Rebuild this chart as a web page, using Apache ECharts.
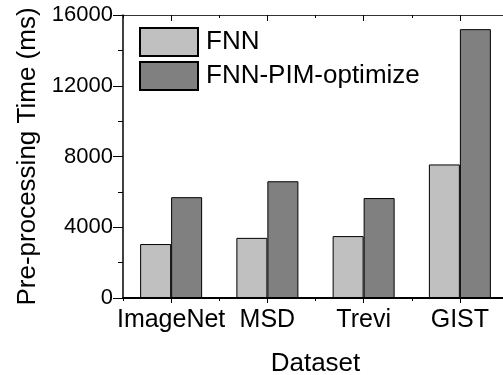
<!DOCTYPE html>
<html>
<head>
<meta charset="utf-8">
<script src="https://cdn.jsdelivr.net/npm/echarts@6/dist/echarts.min.js"></script>
<style>
  html, body { margin: 0; padding: 0; background: #fff; }
  #chart { width: 503px; height: 375px; }
</style>
</head>
<body>
<div id="chart"></div>
<script>
// Pre-processing time per dataset (ms)
const datasets = ['ImageNet', 'MSD', 'Trevi', 'GIST'];
const fnnTimes = [3050, 3400, 3500, 7550];
const pimTimes = [5700, 6600, 5650, 15200];
const yTicks = { min: 0, max: 16000, interval: 4000 };

const FONT = '"Liberation Sans", Arial, sans-serif';
const chart = echarts.init(document.getElementById('chart'), null, { renderer: 'canvas' });

// helper for the unlabeled tick-only category axes
function tickAxis(position, alignWithLabel, length, inside, lineShow, lineColor, lineWidth) {
  return {
    type: 'category',
    data: datasets,
    position: position,
    gridIndex: 0,
    axisLine: { show: lineShow, lineStyle: { color: lineColor, width: lineWidth } },
    axisTick: { show: true, alignWithLabel: alignWithLabel, length: length, inside: inside,
                lineStyle: { color: '#000', width: 1 } },
    axisLabel: { show: false },
    splitLine: { show: false }
  };
}

chart.setOption({
  animation: false,
  backgroundColor: '#fff',
  textStyle: { fontFamily: FONT, color: '#000' },
  grid: { left: 123, top: 15, width: 385, height: 283, containLabel: false, outerBoundsMode: 'none' },
  legend: {
    orient: 'vertical',
    left: 139,
    top: 27,
    padding: 0,
    itemWidth: 58,
    itemHeight: 28,
    itemGap: 4,
    icon: 'rect',
    textStyle: { fontFamily: FONT, fontSize: 26, color: '#000', padding: [0, 0, 0, 3] },
    data: ['FNN', 'FNN-PIM-optimize']
  },
  xAxis: [
    {
      type: 'category',
      data: datasets,
      position: 'bottom',
      name: 'Dataset',
      nameLocation: 'middle',
      nameGap: 53,
      nameTextStyle: { fontFamily: FONT, fontSize: 26, color: '#000' },
      axisLine: { show: true, lineStyle: { color: '#000', width: 2 } },
      axisTick: { show: true, alignWithLabel: true, length: 5, lineStyle: { color: '#000', width: 1 } },
      axisLabel: { fontFamily: FONT, fontSize: 25, color: '#000', margin: 10, interval: 0 },
      splitLine: { show: false }
    },
    tickAxis('bottom', false, 3, false, false, '#000', 1),
    tickAxis('top', true, 6, true, true, '#333', 1.2),
    tickAxis('top', false, 3, true, false, '#333', 1)
  ],
  yAxis: {
    type: 'value',
    min: yTicks.min,
    max: yTicks.max,
    interval: yTicks.interval,
    name: 'Pre-processing Time (ms)',
    nameLocation: 'middle',
    nameGap: 77,
    nameTextStyle: { fontFamily: FONT, fontSize: 26, color: '#000' },
    axisLine: { show: true, lineStyle: { color: '#000', width: 1.5 } },
    axisTick: { show: true, length: 10, lineStyle: { color: '#000', width: 1 } },
    minorTick: { show: true, splitNumber: 2, length: 5, lineStyle: { color: '#000', width: 1 } },
    axisLabel: { fontFamily: FONT, fontSize: 22, color: '#000', margin: 10,
                 formatter: function (v) { return String(v); } },
    splitLine: { show: false }
  },
  series: [
    {
      name: 'FNN',
      type: 'bar',
      xAxisIndex: 0,
      data: fnnTimes,
      barWidth: 31,
      barGap: '0%',
      itemStyle: { color: '#c0c0c0', borderColor: '#000', borderWidth: 1 }
    },
    {
      name: 'FNN-PIM-optimize',
      type: 'bar',
      xAxisIndex: 0,
      data: pimTimes,
      barWidth: 31,
      barGap: '0%',
      itemStyle: { color: '#808080', borderColor: '#000', borderWidth: 1 }
    }
  ]
});
</script>
</body>
</html>
